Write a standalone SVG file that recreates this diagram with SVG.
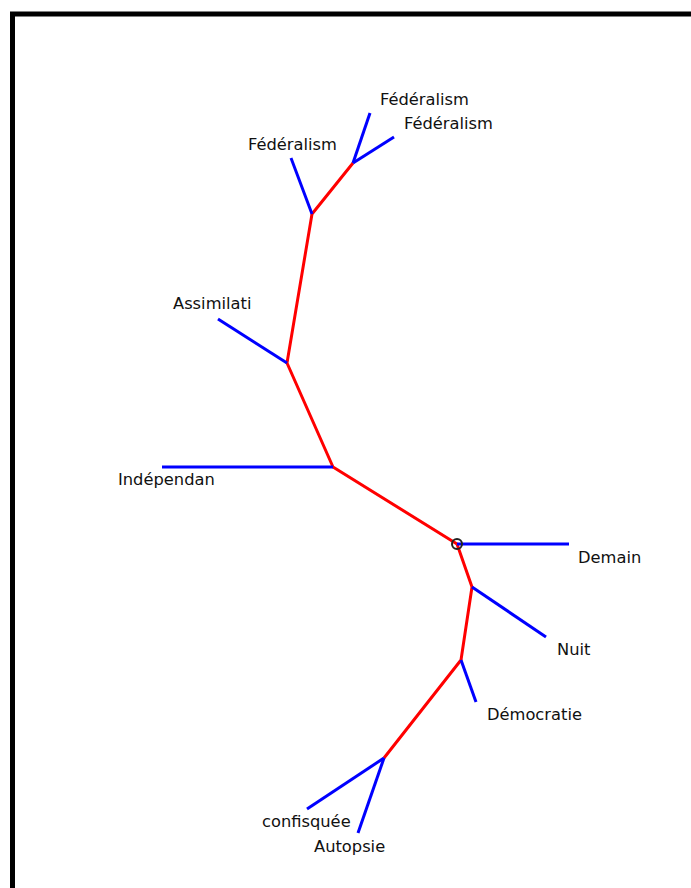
<svg xmlns="http://www.w3.org/2000/svg" width="691" height="888" viewBox="0 0 691 888">
<style>
.r{stroke:#ff0000;stroke-width:3;fill:none;stroke-linejoin:round}
.b{stroke:#0000ff;stroke-width:3;fill:none}
text{font-family:"DejaVu Sans",Verdana,sans-serif;font-size:16.3px;fill:#111}
</style>
<rect width="691" height="888" fill="#fff"/>
<g id="frame">
<line x1="10" y1="14" x2="691" y2="14" stroke="#000" stroke-width="5"/>
<line x1="12.5" y1="12" x2="12.5" y2="888" stroke="#000" stroke-width="5"/>
</g>
<g id="connectors">
<polyline class="r" points="457,544 333,467 287,363 312,214 353,163"/>
<polyline class="r" points="457,544 472,587 461,660 384,758"/>
<line class="b" x1="353" y1="163" x2="370" y2="113"/>
<line class="b" x1="353" y1="163" x2="394" y2="137"/>
<line class="b" x1="312" y1="214" x2="291" y2="158"/>
<line class="b" x1="287" y1="363" x2="218" y2="319"/>
<line class="b" x1="333" y1="467" x2="162" y2="467"/>
<line class="b" x1="457" y1="544" x2="569" y2="544"/>
<line class="b" x1="472" y1="587" x2="546" y2="637"/>
<line class="b" x1="461" y1="660" x2="476" y2="702"/>
<line class="b" x1="384" y1="758" x2="307" y2="809"/>
<line class="b" x1="384" y1="758" x2="358" y2="833"/>
</g>
<g id="root"><circle cx="457" cy="544" r="5" fill="none" stroke="#222" stroke-width="2"/></g>
<g id="n1"><text x="380" y="105">Fédéralism</text></g>
<g id="n2"><text x="404" y="129">Fédéralism</text></g>
<g id="n3"><text x="248" y="150">Fédéralism</text></g>
<g id="n4"><text x="173" y="309">Assimilati</text></g>
<g id="n5"><text x="118" y="485">Indépendan</text></g>
<g id="n6"><text x="578" y="563">Demain</text></g>
<g id="n7"><text x="557" y="655">Nuit</text></g>
<g id="n8"><text x="487" y="720">Démocratie</text></g>
<g id="n9"><text x="262" y="827">confisquée</text></g>
<g id="n10"><text x="314" y="852">Autopsie</text></g>
</svg>
